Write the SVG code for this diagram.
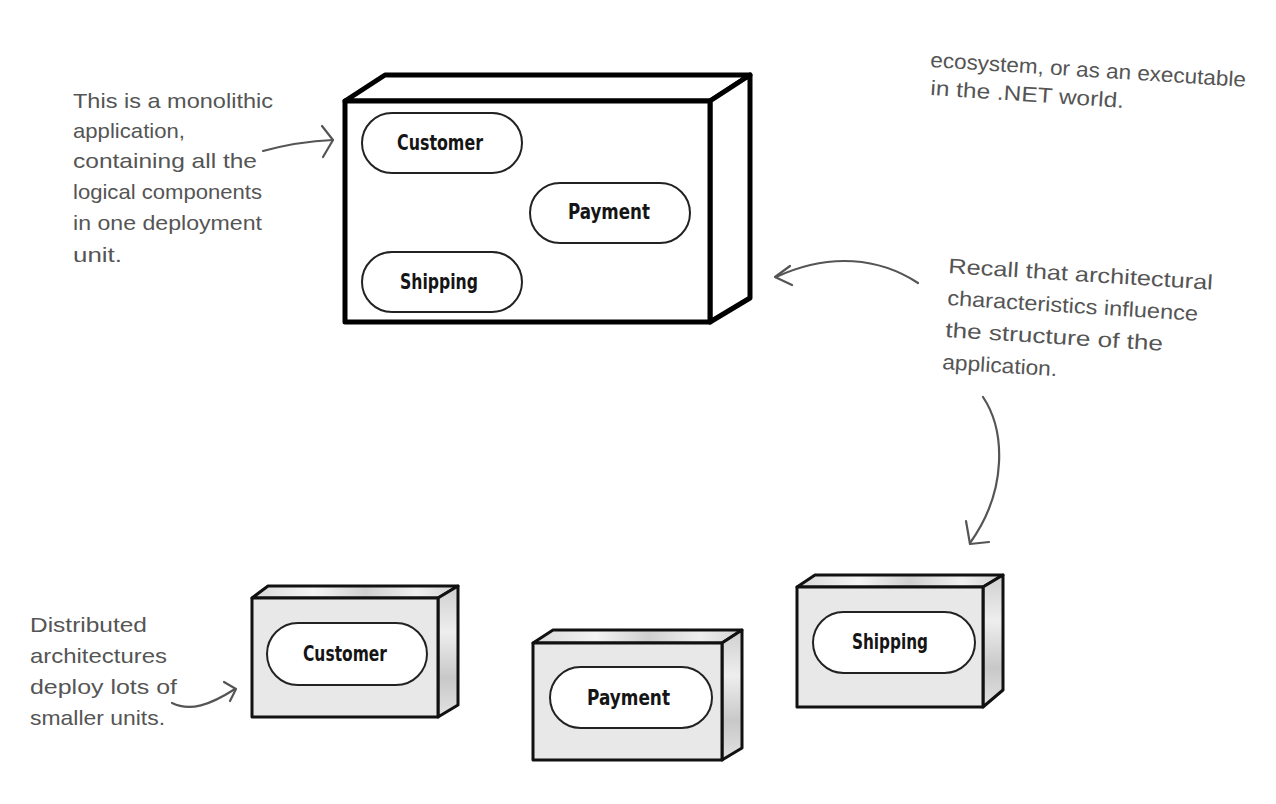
<svg xmlns="http://www.w3.org/2000/svg" width="1276" height="804" viewBox="0 0 1276 804">
<defs>
<style>
.note{font-family:"Liberation Sans","DejaVu Sans",sans-serif;font-size:21px;fill:#555;}
.lbl{font-family:"DejaVu Sans Condensed","Liberation Sans Narrow","Liberation Sans",sans-serif;font-weight:bold;font-size:22px;fill:#151515;text-anchor:start;}
.pill{fill:#fff;stroke:#222;stroke-width:2;}
.big{fill:#fff;stroke:#000;stroke-width:5;stroke-linejoin:round;}
.sm{stroke:#111;stroke-width:3;stroke-linejoin:round;}
.conn{fill:none;stroke:#555;stroke-width:2.2;stroke-linecap:round;stroke-linejoin:round;}
</style>
<linearGradient id="topg" x1="0" y1="0" x2="1" y2="0">
<stop offset="0" stop-color="#d8d8d8"/><stop offset="0.3" stop-color="#f4f4f4"/><stop offset="0.55" stop-color="#cfcfcf"/><stop offset="0.8" stop-color="#efefef"/><stop offset="1" stop-color="#d0d0d0"/>
</linearGradient>
<linearGradient id="sideg" x1="0" y1="0" x2="0" y2="1">
<stop offset="0" stop-color="#cfcfcf"/><stop offset="0.35" stop-color="#eeeeee"/><stop offset="0.7" stop-color="#c8c8c8"/><stop offset="1" stop-color="#e2e2e2"/>
</linearGradient>
</defs>
<rect width="1276" height="804" fill="#fff"/>

<g id="monolith">
<polygon class="big" points="345,101 385,75 750,75 710,101"/>
<polygon class="big" points="710,101 750,75 750,298 710,322"/>
<rect class="big" x="345" y="101" width="365" height="221"/>
<rect class="pill" x="362" y="113" width="160" height="60" rx="30"/>
<text class="lbl" x="397" y="150" textLength="86" lengthAdjust="spacingAndGlyphs">Customer</text>
<rect class="pill" x="530" y="183" width="160" height="60" rx="30"/>
<text class="lbl" x="568" y="219" textLength="82" lengthAdjust="spacingAndGlyphs">Payment</text>
<rect class="pill" x="362" y="252" width="160" height="60" rx="30"/>
<text class="lbl" x="400" y="289" textLength="78" lengthAdjust="spacingAndGlyphs">Shipping</text>
</g>

<g id="customer-unit">
<polygon class="sm" fill="url(#topg)" points="252,598 268,586 458,586 438,598"/>
<polygon class="sm" fill="url(#sideg)" points="438,598 458,586 458,705 438,717"/>
<rect class="sm" fill="#e8e8e8" x="252" y="598" width="186" height="119"/>
<rect class="pill" x="267" y="623" width="160" height="62" rx="31"/>
<text class="lbl" x="303" y="661" textLength="84" lengthAdjust="spacingAndGlyphs">Customer</text>
</g>

<g id="payment-unit">
<polygon class="sm" fill="url(#topg)" points="533,643 553,630 742,630 722,643"/>
<polygon class="sm" fill="url(#sideg)" points="722,643 742,630 742,748 722,760"/>
<rect class="sm" fill="#e8e8e8" x="533" y="643" width="189" height="117"/>
<rect class="pill" x="550" y="667" width="162" height="61" rx="30.5"/>
<text class="lbl" x="587" y="705" textLength="83" lengthAdjust="spacingAndGlyphs">Payment</text>
</g>

<g id="shipping-unit">
<polygon class="sm" fill="url(#topg)" points="797,587 815,575 1003,575 983,587"/>
<polygon class="sm" fill="url(#sideg)" points="983,587 1003,575 1003,690 983,707"/>
<rect class="sm" fill="#e8e8e8" x="797" y="587" width="186" height="120"/>
<rect class="pill" x="813" y="612" width="162" height="61" rx="30.5"/>
<text class="lbl" x="852" y="649" textLength="76" lengthAdjust="spacingAndGlyphs">Shipping</text>
</g>

<g id="note-monolith">
<text class="note" x="73" y="108" textLength="200" lengthAdjust="spacingAndGlyphs">This is a monolithic</text>
<text class="note" x="73" y="138" textLength="112" lengthAdjust="spacingAndGlyphs">application,</text>
<text class="note" x="73" y="168" textLength="184" lengthAdjust="spacingAndGlyphs">containing all the</text>
<text class="note" x="73" y="199" textLength="189" lengthAdjust="spacingAndGlyphs">logical components</text>
<text class="note" x="73" y="230" textLength="189" lengthAdjust="spacingAndGlyphs">in one deployment</text>
<text class="note" x="73" y="262" textLength="49" lengthAdjust="spacingAndGlyphs">unit.</text>
</g>

<g id="note-ecosystem">
<text class="note" x="930" y="67" transform="rotate(3.6 930 67)" textLength="316" lengthAdjust="spacingAndGlyphs">ecosystem, or as an executable</text>
<text class="note" x="930" y="95" transform="rotate(3.8 930 95)" textLength="194" lengthAdjust="spacingAndGlyphs">in the .NET world.</text>
</g>

<g id="note-recall">
<text class="note" x="948" y="273" transform="rotate(3.6 948 273)" textLength="265" lengthAdjust="spacingAndGlyphs">Recall that architectural</text>
<text class="note" x="947" y="305" transform="rotate(3.6 947 305)" textLength="251" lengthAdjust="spacingAndGlyphs">characteristics influence</text>
<text class="note" x="945" y="337" transform="rotate(3.6 945 337)" textLength="218" lengthAdjust="spacingAndGlyphs">the structure of the</text>
<text class="note" x="942" y="369" transform="rotate(3.6 942 369)" textLength="115" lengthAdjust="spacingAndGlyphs">application.</text>
</g>

<g id="note-distributed">
<text class="note" x="30" y="632" textLength="117" lengthAdjust="spacingAndGlyphs">Distributed</text>
<text class="note" x="30" y="663" textLength="137" lengthAdjust="spacingAndGlyphs">architectures</text>
<text class="note" x="30" y="694" textLength="147" lengthAdjust="spacingAndGlyphs">deploy lots of</text>
<text class="note" x="30" y="725" textLength="135" lengthAdjust="spacingAndGlyphs">smaller units.</text>
</g>

<g id="connectors">
<path class="conn" d="M263 151 C 285 145, 310 141, 333 140"/>
<path class="conn" d="M322 126 L 333 140 L 323 157"/>
<path class="conn" d="M918 283 C 880 258, 830 252, 776 277"/>
<path class="conn" d="M790 266 L 775 277 L 792 285"/>
<path class="conn" d="M983 397 C 1005 430, 1008 490, 970 543"/>
<path class="conn" d="M966 521 L 970 544 L 989 542"/>
<path class="conn" d="M172 703 C 190 712, 210 705, 235 689"/>
<path class="conn" d="M224 682 L 236 689 L 230 701"/>
</g>
</svg>
